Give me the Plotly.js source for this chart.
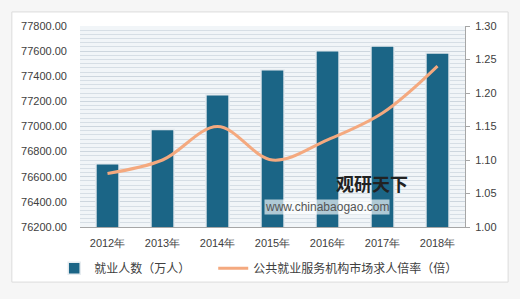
<!DOCTYPE html>
<html><head><meta charset="utf-8">
<script src="https://cdn.plot.ly/plotly-3.0.1.min.js"></script>
<style>html,body{margin:0;padding:0;background:#fff}#chart{width:520px;height:299px}</style>
</head><body><div id="chart"></div>
<script>
const years = ['2012年','2013年','2014年','2015年','2016年','2017年','2018年'];
const employed = [76704, 76977, 77253, 77451, 77603, 77640, 77586];
const ratio = [1.08, 1.10, 1.15, 1.10, 1.13, 1.17, 1.24];
const barName = '就业人数（万人）\u3000\u3000';
const lineName = '公共就业服务机构市场求人倍率（倍）';

const traces = [
  {type:'bar', x:years, y:employed, name:barName, width:0.42,
   marker:{color:'#1b6586', line:{color:'#e6ecf0', width:1.5}}},
  {type:'scatter', mode:'lines', x:years, y:ratio, name:lineName, yaxis:'y2',
   line:{color:'#f4a97f', width:3, shape:'spline', smoothing:1}}
];
const tickFont = {family:'Liberation Sans, Arial, sans-serif', size:11, color:'#404040'};
const layout = {
  width:520, height:299,
  margin:{l:80, r:55, t:26, b:72},
  paper_bgcolor:'#f6f6f6', plot_bgcolor:'rgba(0,0,0,0)',
  showlegend:true,
  xaxis:{showgrid:false, showline:true, linecolor:'#a6a6a6', linewidth:1,
    tickfont:tickFont, ticks:'', ticklabelstandoff:6, fixedrange:true},
  yaxis:{range:[76200,77800], dtick:200, tickformat:'.2f', showline:false,
    showgrid:true, gridcolor:'#cdd6de', gridwidth:1, zeroline:false,
    minor:{dtick:200/6, showgrid:true, gridcolor:'#d6dee5', gridwidth:1},
    tickfont:tickFont, ticklabelstandoff:12},
  yaxis2:{overlaying:'y', side:'right', range:[1.0,1.30], dtick:0.05, tickformat:'.2f',
    showgrid:false, zeroline:false, showline:true, linecolor:'#a6a6a6', linewidth:1,
    ticks:'outside', ticklen:4, tickcolor:'#a6a6a6', tickfont:tickFont, ticklabelstandoff:3},
  legend:{orientation:'h', x:-0.067, xanchor:'left', y:-0.205, yanchor:'middle',
    font:{family:'Noto Sans CJK SC, sans-serif', size:12, color:'#404040'},
    bgcolor:'rgba(0,0,0,0)', itemwidth:30},
  shapes:[
    {type:'rect', xref:'paper', yref:'paper', x0:-0.177, x1:1.112, y0:-0.274, y1:1.070,
     fillcolor:'#ffffff', line:{color:'#dcdcdc', width:1}, layer:'below'},
    {type:'rect', xref:'paper', yref:'paper', x0:0, x1:1, y0:0, y1:1,
     fillcolor:'#f1f5f8', line:{width:0}, layer:'below'}
  ],
  annotations:[
    {xref:'paper', yref:'paper', x:0.856, y:0.144, text:'<b>观研天下</b>', showarrow:false,
     font:{family:'Noto Sans CJK SC, sans-serif', size:18, color:'#222'}},
    {xref:'paper', yref:'paper', x:0.805, y:0.06, text:'www.chinabaogao.com', showarrow:false,
     bgcolor:'rgba(255,255,255,0.65)', borderpad:0,
     font:{family:'Liberation Sans, Arial, sans-serif', size:12, color:'#555'}}
  ]
};
Plotly.newPlot('chart', traces, layout, {displayModeBar:false, staticPlot:true});
</script></body></html>
